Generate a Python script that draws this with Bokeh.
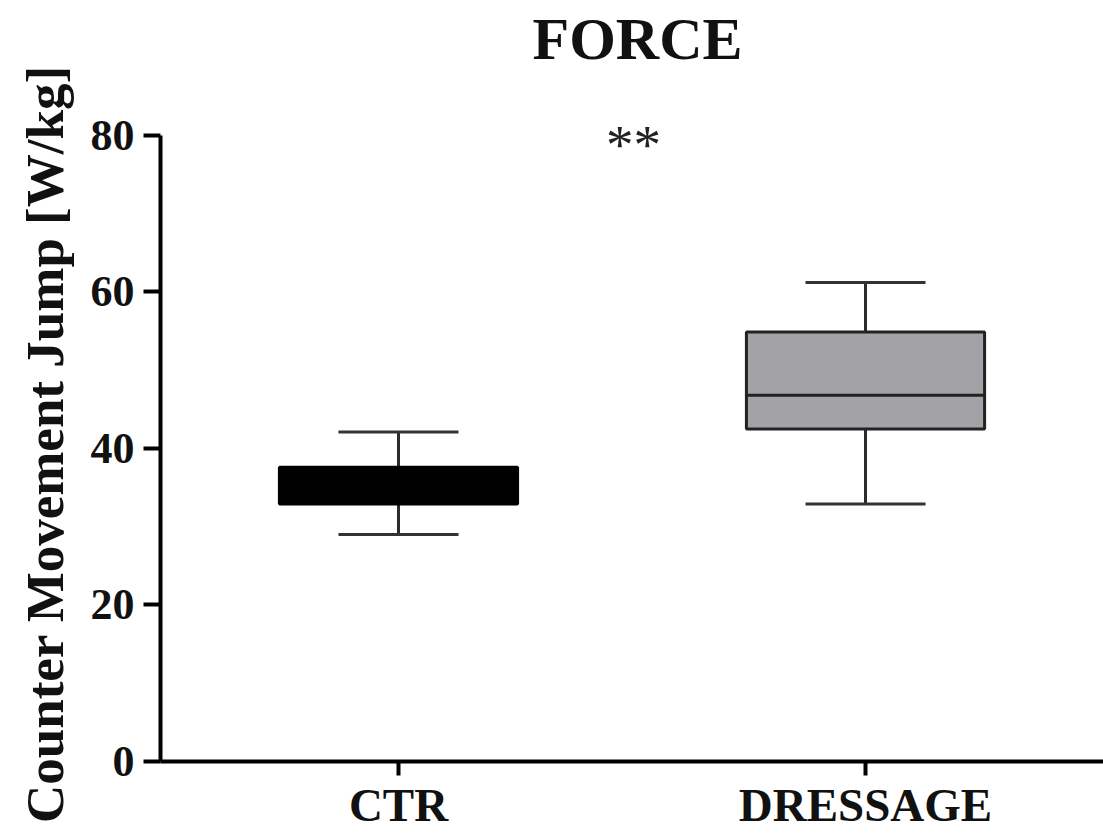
from bokeh.plotting import figure
from bokeh.models import Range1d, FixedTicker, Label
from bokeh.embed import file_html
from bokeh.resources import INLINE

# ---- data ----
categories = ["CTR", "DRESSAGE"]
whisker_low = [29.0, 32.9]
q1 = [32.9, 42.5]
median = [35.2, 46.8]
q3 = [37.6, 54.9]
whisker_high = [42.1, 61.2]
box_fill = ["#000000", "#a3a2a7"]
box_line = ["#000000", "#222222"]
y_ticks = [0, 20, 40, 60, 80]
y_axis_extent = (0, 80)
title_text = "FORCE"
signif_text = "**"

xs = [i + 1 for i in range(len(categories))]
FONT = "Liberation Serif"

# frame reaches slightly above 80 so the "**" is not clipped; axis stops at 80
p = figure(width=1103, height=833, title=title_text,
           x_range=Range1d(0.4904, 2.5096), y_range=Range1d(0, 81.15),
           output_backend="svg", toolbar_location=None,
           min_border_left=160, min_border_top=126,
           min_border_bottom=71, min_border_right=0)

p.background_fill_color = "white"
p.border_fill_color = "white"
p.outline_line_color = None
p.grid.visible = False

p.title.align = "left"
p.title.offset = 372
p.title.text_font = FONT
p.title.text_font_style = "bold"
p.title.text_font_size = "60px"
p.title.text_color = "#111111"
p.title.standoff = 0
# lift the title text inside its panel
try:
    if "padding" in p.title.properties():
        p.title.padding = dict(top=0, right=0, bottom=55, left=0)
except Exception:
    pass

box_w = 0.51
cap_w = 0.257

# whiskers
p.segment(x0=xs, y0=q3, x1=xs, y1=whisker_high, line_color="#2b2b2b", line_width=3)
p.segment(x0=xs, y0=whisker_low, x1=xs, y1=q1, line_color="#2b2b2b", line_width=3)
# caps
p.segment(x0=[x - cap_w / 2 for x in xs], y0=whisker_high,
          x1=[x + cap_w / 2 for x in xs], y1=whisker_high,
          line_color="#333333", line_width=3)
p.segment(x0=[x - cap_w / 2 for x in xs], y0=whisker_low,
          x1=[x + cap_w / 2 for x in xs], y1=whisker_low,
          line_color="#333333", line_width=3)
# boxes
p.vbar(x=xs, width=box_w, bottom=q1, top=q3, fill_color=box_fill,
       line_color=box_line, line_width=3)
# medians
p.segment(x0=[x - box_w / 2 for x in xs], y0=median,
          x1=[x + box_w / 2 for x in xs], y1=median,
          line_color=box_line, line_width=3)

# significance
p.add_layout(Label(x=1.503, y=78.85, text=signif_text, text_font=FONT,
                   text_font_size="55px", text_align="center",
                   text_baseline="alphabetic", text_color="#222222"))

# axes
for ax in (p.xaxis[0], p.yaxis[0]):
    ax.axis_line_width = 4
    ax.axis_line_color = "black"
    ax.major_tick_line_width = 4
    ax.major_tick_line_color = "black"
    ax.major_tick_in = 0
    ax.minor_tick_line_color = None
    ax.major_label_text_font = FONT
    ax.major_label_text_font_style = "bold"
    ax.major_label_text_color = "#111111"

p.xaxis.ticker = FixedTicker(ticks=xs)
p.xaxis.major_label_overrides = {x: c for x, c in zip(xs, categories)}
p.xaxis.major_tick_out = 14
p.xaxis.major_label_standoff = 3
p.xaxis.major_label_text_font_size = "47px"

p.yaxis.bounds = y_axis_extent
p.yaxis.ticker = FixedTicker(ticks=y_ticks)
p.yaxis.major_tick_out = 17
p.yaxis.major_label_standoff = 9
p.yaxis.major_label_text_font_size = "44px"
p.yaxis.axis_label = "Counter Movement Jump [W/kg]"
p.yaxis.axis_label_text_font = FONT
p.yaxis.axis_label_text_font_style = "bold"
p.yaxis.axis_label_text_font_size = "53px"
p.yaxis.axis_label_text_color = "#111111"
p.yaxis.axis_label_standoff = 14

open("out.html", "w").write(file_html(p, INLINE))
